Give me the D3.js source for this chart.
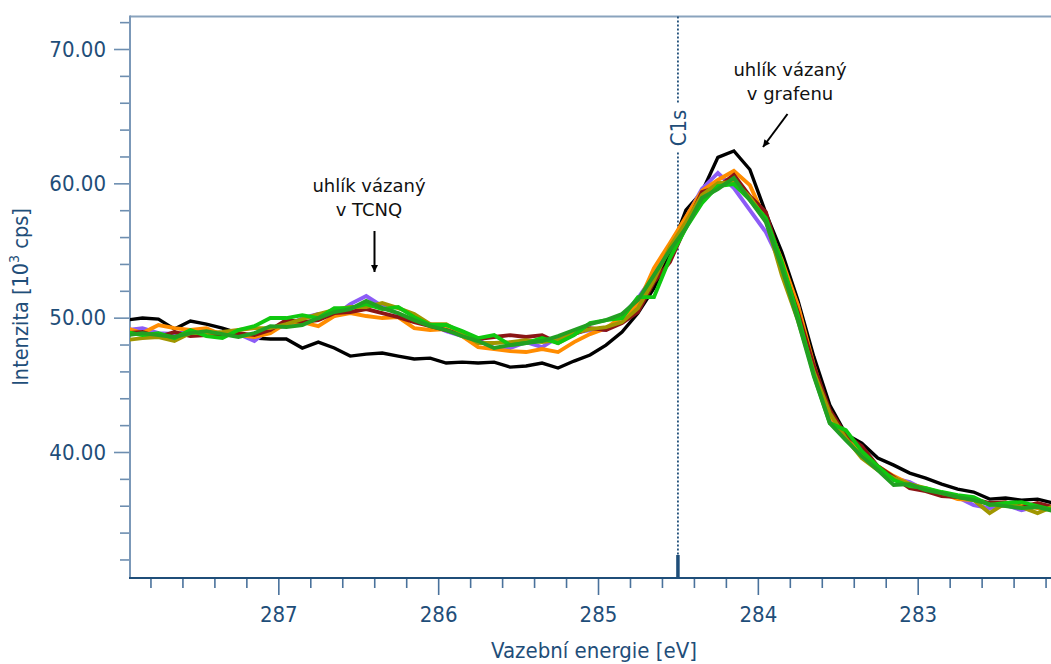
<!DOCTYPE html>
<html>
<head>
<meta charset="utf-8">
<script src="https://cdn.jsdelivr.net/npm/d3@7"></script>
<style>
  html, body { margin: 0; padding: 0; background: #fff; }
  #chart { width: 1051px; height: 664px; }
</style>
</head>
<body>
<div id="chart"></div>
<script>
// binding energy grid [eV]
const energy = [287.95, 287.85, 287.75, 287.65, 287.55, 287.45, 287.35, 287.25, 287.15, 287.05,
  286.95, 286.85, 286.75, 286.65, 286.55, 286.45, 286.35, 286.25, 286.15, 286.05,
  285.95, 285.85, 285.75, 285.65, 285.55, 285.45, 285.35, 285.25, 285.15, 285.05,
  284.95, 284.85, 284.75, 284.65, 284.55, 284.45, 284.35, 284.25, 284.15, 284.05,
  283.95, 283.85, 283.75, 283.65, 283.55, 283.45, 283.35, 283.25, 283.15, 283.05,
  282.95, 282.85, 282.75, 282.65, 282.55, 282.45, 282.35, 282.25, 282.15];

// intensity [10^3 cps]
const black = [49.82, 49.97, 49.89, 49.15, 49.75, 49.52, 49.22, 48.85, 48.48, 48.41,
  48.41, 47.74, 48.18, 47.74, 47.14, 47.29, 47.37, 47.14, 46.92, 46.99,
  46.62, 46.69, 46.62, 46.69, 46.32, 46.40, 46.62, 46.25, 46.77, 47.22,
  47.96, 48.93, 50.34, 52.20, 54.88, 58.01, 59.35, 61.93, 62.41, 61.03,
  57.79, 54.89, 51.31, 47.10, 43.49, 41.33, 40.66, 39.55, 39.02, 38.43,
  38.06, 37.61, 37.24, 37.02, 36.49, 36.57, 36.42, 36.49, 36.20];
const purple = [49.08, 49.22, 48.85, 48.78, 49.00, 49.08, 48.78, 48.78, 48.26, 49.22,
  49.37, 49.97, 50.27, 50.12, 51.01, 51.61, 50.86, 50.27, 49.82, 49.52,
  49.00, 48.63, 48.33, 47.74, 47.74, 48.18, 47.81, 48.56, 48.85, 49.08,
  49.08, 50.12, 51.46, 53.17, 55.33, 57.42, 59.58, 60.77, 59.65, 58.01,
  56.37, 53.92, 50.94, 46.10, 42.38, 41.11, 39.99, 38.88, 38.06, 37.76,
  37.16, 36.94, 36.64, 36.05, 35.82, 36.05, 35.67, 35.97, 35.82];
const orange = [49.22, 48.85, 49.45, 49.22, 49.08, 49.22, 48.70, 48.70, 48.56, 48.85,
  49.60, 49.67, 49.37, 50.12, 50.34, 50.12, 49.97, 50.04, 49.22, 49.08,
  49.15, 48.63, 47.81, 47.66, 47.51, 47.44, 47.66, 47.44, 48.18, 48.78,
  49.22, 50.04, 51.01, 53.69, 55.56, 57.49, 59.43, 60.25, 60.92, 59.87,
  57.27, 54.29, 50.94, 46.47, 42.75, 41.04, 39.84, 38.95, 38.21, 37.61,
  37.24, 36.94, 36.49, 36.42, 36.12, 35.97, 36.05, 35.82, 35.67];
const darkRed = [48.85, 48.93, 48.56, 48.93, 48.63, 48.70, 48.70, 48.85, 48.70, 49.08,
  49.82, 49.67, 49.82, 50.34, 50.42, 50.64, 50.34, 50.04, 49.67, 49.37,
  49.08, 48.70, 48.41, 48.56, 48.70, 48.56, 48.70, 48.11, 48.78, 49.22,
  49.08, 49.60, 50.42, 52.65, 54.14, 56.82, 59.35, 59.73, 60.62, 59.05,
  57.86, 53.92, 50.42, 46.40, 43.12, 41.26, 40.44, 38.95, 38.13, 37.31,
  37.09, 36.72, 36.64, 36.49, 36.20, 36.27, 35.90, 36.20, 35.90];
const olive = [48.33, 48.48, 48.56, 48.26, 48.85, 48.85, 48.93, 49.08, 49.22, 49.22,
  49.52, 49.89, 50.27, 50.57, 50.79, 50.79, 51.09, 50.71, 50.27, 49.52,
  49.52, 48.85, 48.11, 48.11, 48.18, 48.33, 48.18, 48.33, 48.85, 49.15,
  49.30, 49.67, 50.71, 52.80, 55.26, 57.12, 59.13, 60.02, 60.10, 58.98,
  57.27, 53.17, 49.82, 45.95, 42.90, 41.04, 39.55, 38.65, 38.06, 37.61,
  37.31, 36.94, 36.72, 36.42, 35.45, 36.20, 35.90, 35.45, 35.97];
const lime = [48.93, 48.70, 48.85, 48.48, 49.08, 48.63, 48.48, 49.08, 49.37, 49.97,
  49.97, 50.19, 49.97, 50.71, 50.71, 51.01, 50.64, 50.79, 50.04, 49.45,
  49.45, 49.00, 48.48, 48.70, 47.96, 48.11, 48.48, 48.11, 48.70, 49.60,
  49.82, 49.97, 51.53, 51.53, 54.44, 56.67, 58.53, 59.80, 59.95, 58.76,
  57.42, 54.14, 50.19, 45.73, 42.15, 41.63, 40.07, 38.95, 37.91, 37.46,
  37.31, 37.02, 36.79, 36.64, 36.05, 36.20, 36.27, 35.97, 35.67];
const green = [48.70, 48.85, 48.70, 48.56, 48.85, 49.00, 48.78, 48.56, 48.85, 49.37,
  49.30, 49.45, 49.97, 50.42, 50.64, 51.24, 50.71, 50.34, 49.82, 49.37,
  49.08, 48.63, 48.26, 47.74, 47.96, 48.11, 48.26, 48.63, 49.08, 49.52,
  49.82, 50.27, 51.31, 53.17, 55.03, 56.67, 58.91, 59.58, 60.40, 58.76,
  57.12, 53.69, 49.82, 45.65, 42.15, 40.89, 39.69, 38.65, 37.54, 37.61,
  37.16, 36.94, 36.64, 36.42, 36.12, 35.97, 35.82, 35.90, 35.60];

const seriesList = [black, purple, orange, darkRed, olive, lime, green];
const seriesColors = ['#000000', '#8c5cf6', '#ff8c00', '#8b1515', '#a09600', '#10c810', '#22a022'];

const yMajor = [40, 50, 60, 70];
const yMinor = [32, 34, 36, 38, 42, 44, 46, 48, 52, 54, 56, 58, 62, 64, 66, 68, 72];
const xMajor = [287, 286, 285, 284, 283];
const xMinor = [287.8, 287.6, 287.4, 287.2, 286.8, 286.6, 286.4, 286.2, 285.8, 285.6, 285.4, 285.2,
  284.8, 284.6, 284.4, 284.2, 283.8, 283.6, 283.4, 283.2, 282.8, 282.6, 282.4, 282.2];
const c1sEnergy = 284.5;

const W = 1051, H = 664;
const plotLeft = 130, plotRight = 1051, plotTop = 16.5, plotBottom = 578;
const axisBlue = '#1f4e79';
const tickFont = "'DejaVu Sans Condensed', 'DejaVu Sans', sans-serif";

const svg = d3.select('#chart').append('svg')
  .attr('width', W)
  .attr('height', H)
  .style('font-family', tickFont);

const x = d3.scaleLinear().domain([287.928, 282.166]).range([plotLeft, plotRight]);
const y = d3.scaleLinear().domain([30.62, 72.42]).range([plotBottom, plotTop]);

const defs = svg.append('defs');
defs.append('clipPath')
  .attr('id', 'plot-clip')
  .append('rect')
    .attr('x', plotLeft).attr('y', plotTop)
    .attr('width', plotRight - plotLeft).attr('height', plotBottom - plotTop);

// top frame line
svg.append('line')
  .attr('x1', plotLeft).attr('x2', plotRight)
  .attr('y1', plotTop).attr('y2', plotTop)
  .attr('stroke', '#8aa3bd').attr('stroke-width', 2);

// y axis
const yAxisMinor = svg.append('g')
  .attr('transform', `translate(${plotLeft},0)`)
  .call(d3.axisLeft(y).tickValues(yMinor).tickSize(10).tickFormat(''));
const yAxisMajor = svg.append('g')
  .attr('transform', `translate(${plotLeft},0)`)
  .call(d3.axisLeft(y).tickValues(yMajor).tickSize(16).tickPadding(8).tickFormat(d3.format('.2f')));
[yAxisMinor, yAxisMajor].forEach(g => {
  g.select('.domain').remove();
  g.selectAll('.tick line').attr('stroke', '#6d8eb0').attr('stroke-width', 1.6);
});
yAxisMajor.selectAll('.tick text')
  .attr('fill', axisBlue)
  .style('font-size', '22px')
  .style('font-family', tickFont);
svg.append('line')
  .attr('x1', plotLeft).attr('x2', plotLeft)
  .attr('y1', plotTop - 1).attr('y2', plotBottom)
  .attr('stroke', '#7b98b8').attr('stroke-width', 2);

// x axis
const xAxisMinor = svg.append('g')
  .attr('transform', `translate(0,${plotBottom})`)
  .call(d3.axisBottom(x).tickValues(xMinor).tickSize(10).tickFormat(''));
const xAxisMajor = svg.append('g')
  .attr('transform', `translate(0,${plotBottom})`)
  .call(d3.axisBottom(x).tickValues(xMajor).tickSize(17).tickPadding(11).tickFormat(d3.format('d')));
[xAxisMinor, xAxisMajor].forEach(g => {
  g.select('.domain').remove();
  g.selectAll('.tick line').attr('stroke', '#4a729c').attr('stroke-width', 1.6);
});
xAxisMajor.selectAll('.tick text')
  .attr('fill', axisBlue)
  .style('font-size', '22px')
  .style('font-family', tickFont);
svg.append('line')
  .attr('x1', plotLeft - 1).attr('x2', plotRight)
  .attr('y1', plotBottom).attr('y2', plotBottom)
  .attr('stroke', axisBlue).attr('stroke-width', 2.2);

// axis titles
svg.append('text')
  .attr('x', 594).attr('y', 658)
  .attr('text-anchor', 'middle')
  .attr('fill', axisBlue)
  .style('font-size', '22px')
  .text('Vazební energie [eV]');

const yTitle = svg.append('text')
  .attr('transform', 'translate(28,297) rotate(-90)')
  .attr('text-anchor', 'middle')
  .attr('fill', axisBlue)
  .style('font-size', '21.5px');
yTitle.append('tspan').text('Intenzita [10');
yTitle.append('tspan').attr('dy', -9).style('font-size', '14px').text('3');
yTitle.append('tspan').attr('dy', 9).text(' cps]');

// C1s marker
const cx = x(c1sEnergy);
svg.append('line')
  .attr('x1', cx).attr('x2', cx)
  .attr('y1', plotTop).attr('y2', plotBottom - 22)
  .attr('stroke', axisBlue).attr('stroke-width', 1.8)
  .attr('stroke-dasharray', '2,2');
svg.append('line')
  .attr('x1', cx).attr('x2', cx)
  .attr('y1', plotBottom - 23).attr('y2', plotBottom)
  .attr('stroke', axisBlue).attr('stroke-width', 3.5);

// spectra
const line = d3.line()
  .x((d, i) => x(energy[i]))
  .y(d => y(d));

svg.append('g')
  .attr('clip-path', 'url(#plot-clip)')
  .selectAll('path')
  .data(seriesList)
  .join('path')
    .attr('d', line)
    .attr('fill', 'none')
    .attr('stroke', (d, i) => seriesColors[i])
    .attr('stroke-width', (d, i) => i === 0 ? 3.4 : 3.9);

// C1s label with white backing
svg.append('rect')
  .attr('x', cx - 10).attr('y', 104)
  .attr('width', 20).attr('height', 48)
  .attr('fill', '#fff');
svg.append('text')
  .attr('transform', `translate(${cx + 8},128) rotate(-90)`)
  .attr('text-anchor', 'middle')
  .attr('fill', axisBlue)
  .style('font-size', '22px')
  .text('C1s');

// annotations
const noteFont = "'DejaVu Sans', sans-serif";
defs.append('marker')
  .attr('id', 'arrow-head')
  .attr('viewBox', '0 0 10 10')
  .attr('refX', 10).attr('refY', 5)
  .attr('markerWidth', 11).attr('markerHeight', 7)
  .attr('markerUnits', 'userSpaceOnUse')
  .attr('orient', 'auto')
  .append('path')
    .attr('d', 'M0,0 L10,5 L0,10 Z')
    .attr('fill', '#000');

function note(cxPos, baseY, lines, from, to) {
  const t = svg.append('text')
    .attr('text-anchor', 'middle')
    .attr('fill', '#111')
    .style('font-family', noteFont)
    .style('font-size', '18px');
  lines.forEach((s, i) => {
    t.append('tspan').attr('x', cxPos).attr('y', baseY + i * 23.5).text(s);
  });
  svg.append('line')
    .attr('x1', from[0]).attr('y1', from[1])
    .attr('x2', to[0]).attr('y2', to[1])
    .attr('stroke', '#000').attr('stroke-width', 2)
    .attr('marker-end', 'url(#arrow-head)');
}

note(790, 76, ['uhlík vázaný', 'v grafenu'], [787.5, 114], [763, 147]);
note(369, 192, ['uhlík vázaný', 'v TCNQ'], [374.5, 231], [374.5, 272]);
</script>
</body>
</html>
